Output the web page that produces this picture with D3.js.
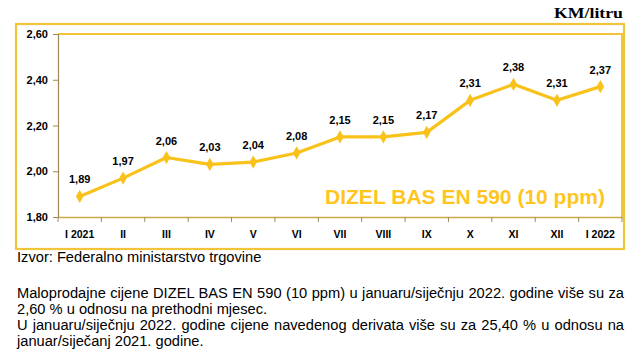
<!DOCTYPE html>
<html><head><meta charset="utf-8">
<script src="https://cdn.jsdelivr.net/npm/d3@7"></script>
<style>
body{margin:0;background:#fff;}
#wrap{position:relative;width:644px;height:364px;overflow:hidden;}
.txt{position:absolute;left:17px;width:607px;font-family:"Liberation Sans",Arial,sans-serif;font-size:14.67px;color:#000;line-height:15.8px;white-space:nowrap;}
.j{text-align:justify;text-align-last:justify;}
</style></head><body>
<div id="wrap"><svg id="chart" width="644" height="364" style="position:absolute;left:0;top:0"></svg>
<div class="txt" style="top:250px">Izvor: Federalno ministarstvo trgovine</div>
<div class="txt j" style="top:286px;white-space:normal">Maloprodajne cijene DIZEL BAS EN 590 (10 ppm) u januaru/siječnju 2022. godine više su za</div>
<div class="txt" style="top:302px">2,60 % u odnosu na prethodni mjesec.</div>
<div class="txt j" style="top:318px;white-space:normal">U januaru/siječnju 2022. godine cijene navedenog derivata više su za 25,40 % u odnosu na</div>
<div class="txt" style="top:333.5px">januar/siječanj 2021. godine.</div>
</div>
<script>
const categories = ["I 2021","II","III","IV","V","VI","VII","VIII","IX","X","XI","XII","I 2022"];
const values = [1.89,1.97,2.06,2.03,2.04,2.08,2.15,2.15,2.17,2.31,2.38,2.31,2.37];
const yTicks = [1.8,2.0,2.2,2.4,2.6];
const title = "DIZEL BAS EN 590 (10 ppm)";
const unit = "KM/litru";

const gold = "#F9C21A";
const svg = d3.select("#chart");
const L=58, R=622, T=34, B=217;

// outer box
svg.append("rect").attr("x",16).attr("y",24).attr("width",608).attr("height",225)
  .attr("fill","#fff").attr("stroke","#F2C43A").attr("stroke-width",2.2);

const x = d3.scaleBand().domain(categories).range([L,R]);
const y = d3.scaleLinear().domain([1.8,2.6]).range([B,T]);

// plot border top/right
svg.append("path").attr("d",`M${L},${T}H${R}V${B}`).attr("fill","none").attr("stroke","#F2C43A").attr("stroke-width",2);

const fmt = d=>d3.format(".2f")(d).replace(".",",");

const ya = svg.append("g").attr("transform",`translate(${L},0)`)
  .call(d3.axisLeft(y).tickValues(yTicks).tickSize(5).tickFormat(fmt));
ya.select(".domain").attr("stroke","#9C8A55").attr("stroke-width",1.2);
ya.selectAll(".tick line").attr("stroke","#9C8A55");
ya.selectAll("text").attr("font-family","Liberation Sans, Arial, sans-serif").attr("font-size",11).attr("font-weight","bold").attr("fill","#000").attr("x",-10);

const xa = svg.append("g").attr("transform",`translate(0,${B})`)
  .call(d3.axisBottom(x).tickSize(0).tickSizeOuter(0));
xa.select(".domain").attr("stroke","#C9A948").attr("stroke-width",1.5);
xa.selectAll("text").attr("font-family","Liberation Sans, Arial, sans-serif").attr("font-size",10.5).attr("font-weight","bold").attr("fill","#000").attr("dy",0).attr("y",21);
// ticks between categories
const bounds = categories.map(c=>x(c)).concat([R]);
svg.append("g").selectAll("line").data(bounds).join("line")
  .attr("x1",d=>d).attr("x2",d=>d).attr("y1",B).attr("y2",B+5).attr("stroke","#9C8A55").attr("stroke-width",1);

const cx = c=>x(c)+x.bandwidth()/2;
svg.append("path").datum(values).attr("fill","none").attr("stroke",gold).attr("stroke-width",3.2).attr("stroke-linejoin","round")
  .attr("d",d3.line().x((d,i)=>cx(categories[i])).y(d=>y(d)));
svg.append("g").selectAll("path").data(values).join("path")
  .attr("transform",(d,i)=>`translate(${cx(categories[i])},${y(d)})`)
  .attr("d",d3.symbol(d3.symbolDiamond,50)).attr("fill",gold);
svg.append("g").selectAll("text").data(values).join("text")
  .attr("x",(d,i)=>cx(categories[i])).attr("y",d=>y(d)-13).attr("text-anchor","middle")
  .attr("font-family","Liberation Sans, Arial, sans-serif").attr("font-size",11).attr("font-weight","bold").text(fmt);

svg.append("text").attr("x",325).attr("y",203.5)
  .attr("font-family","Liberation Sans, Arial, sans-serif").attr("font-size",19.5).attr("font-weight","bold").attr("fill","#FFC51E")
  .attr("textLength",280).attr("lengthAdjust","spacingAndGlyphs").text(title);

svg.append("text").attr("x",554).attr("y",18)
  .attr("font-family","Liberation Serif, serif").attr("font-size",15.5).attr("font-weight","bold").attr("fill","#000")
  .attr("textLength",69).attr("lengthAdjust","spacingAndGlyphs").text(unit);
</script></body></html>
